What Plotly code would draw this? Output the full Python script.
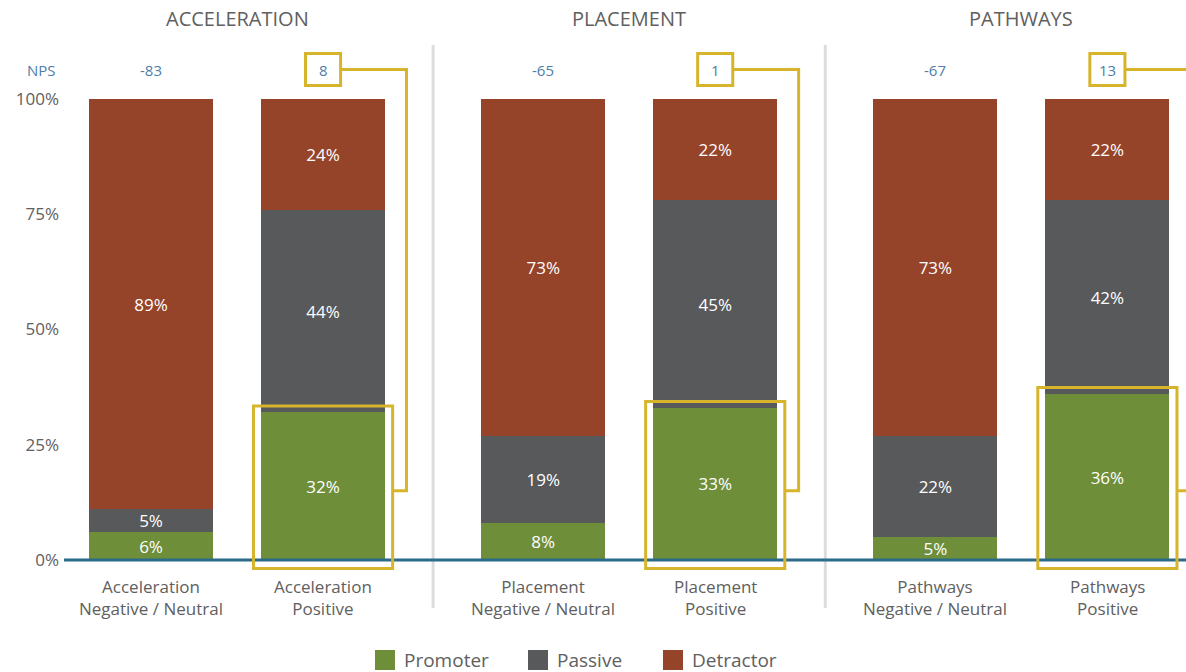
import plotly.graph_objects as go

# ---- data ----
groups = ["ACCELERATION", "PLACEMENT", "PATHWAYS"]
categories = [
    "Acceleration<br>Negative / Neutral", "Acceleration<br>Positive",
    "Placement<br>Negative / Neutral", "Placement<br>Positive",
    "Pathways<br>Negative / Neutral", "Pathways<br>Positive",
]
promoter = [6, 32, 8, 33, 5, 36]
passive = [5, 44, 19, 45, 22, 42]
detractor = [89, 24, 73, 22, 73, 22]
nps = [-83, 8, -65, 1, -67, 13]
highlighted = [False, True, False, True, False, True]
y_ticks = [0, 25, 50, 75, 100]

# ---- style ----
GREEN = "#6f8e3a"
GREY = "#58595b"
BROWN = "#964429"
GOLD = "#d6b52c"
TEAL = "#2a6b8a"
NPS_BLUE = "#4f7ea8"
TEXT = "#606060"
FONT = "Open Sans"

GROUP_STEP = 2.28          # distance between group starts (in bar units)
BAR_W = 0.721
x_pos = [g * GROUP_STEP + i for g in range(len(groups)) for i in (0, 1)]
X_RANGE = [-0.506, 6.017]
Y_RANGE = [-24.295, 121.475]
PX_PER_UNIT = 672 / (Y_RANGE[1] - Y_RANGE[0])


def y_at(px):
    """Data y for a vertical pixel position measured from the top."""
    return (560 - px) / PX_PER_UNIT


fig = go.Figure()
series = [("Promoter", promoter, GREEN), ("Passive", passive, GREY), ("Detractor", detractor, BROWN)]
for name, vals, col in series:
    fig.add_trace(go.Bar(
        x=x_pos, y=vals, name=name, width=BAR_W,
        marker=dict(color=col, line=dict(width=0)),
        text=[f"{v}%" for v in vals], textposition="inside",
        insidetextanchor="middle", textangle=0,
        textfont=dict(color="white", size=17, family=FONT),
        showlegend=False, hoverinfo="skip",
    ))

shapes = []
annotations = []

# baseline
shapes.append(dict(type="line", xref="x", yref="y", x0=X_RANGE[0], x1=X_RANGE[1] + 1,
                   y0=0, y1=0, line=dict(color=TEAL, width=3), layer="above"))

# group separators and titles
for g in range(len(groups)):
    cx = g * GROUP_STEP + 0.5
    annotations.append(dict(x=cx, y=y_at(18), xref="x", yref="y", text=groups[g],
                            showarrow=False, font=dict(size=20, color=TEXT, family=FONT)))
    if g > 0:
        sx = (g * GROUP_STEP + (g - 1) * GROUP_STEP + 1) / 2
        shapes.append(dict(type="line", xref="x", yref="y", x0=sx, x1=sx,
                           y0=y_at(608), y1=y_at(45),
                           line=dict(color="#dcdcdc", width=3), layer="below"))

NPS_Y = y_at(69.5)
# NPS row label
annotations.append(dict(x=(41 - 64) / 1122, y=NPS_Y, xref="paper", yref="y", text="NPS",
                        xanchor="center", yanchor="middle", showarrow=False,
                        font=dict(size=15, color=NPS_BLUE, family=FONT)))

BOX_HW, BOX_HH = 0.102, 3.47
PAD_X = 0.044
LINK_Y = 15
for xp, n, hl, pr, cat in zip(x_pos, nps, highlighted, promoter, categories):
    annotations.append(dict(x=xp, y=NPS_Y, xref="x", yref="y", text=str(n), showarrow=False,
                            font=dict(size=15, color=NPS_BLUE, family=FONT)))
    annotations.append(dict(x=xp, y=y_at(597), xref="x", yref="y", text=cat,
                            showarrow=False, yanchor="middle",
                            font=dict(size=17, color=TEXT, family=FONT)))
    if hl:
        # NPS value box
        shapes.append(dict(type="rect", xref="x", yref="y",
                           x0=xp - BOX_HW, x1=xp + BOX_HW, y0=NPS_Y - BOX_HH, y1=NPS_Y + BOX_HH,
                           line=dict(color=GOLD, width=3), layer="above"))
        # promoter highlight box
        bx1 = xp + BAR_W / 2 + PAD_X
        shapes.append(dict(type="rect", xref="x", yref="y",
                           x0=xp - BAR_W / 2 - PAD_X, x1=bx1, y0=-1.85, y1=pr + 1.4,
                           line=dict(color=GOLD, width=3), layer="above"))
        # connector
        vx = xp + 0.485
        shapes.append(dict(type="path", xref="x", yref="y",
                           path=f"M{xp + BOX_HW},{NPS_Y} L{vx},{NPS_Y} L{vx},{LINK_Y} L{bx1},{LINK_Y}",
                           line=dict(color=GOLD, width=3), layer="above"))

# legend
legend_items = [("Promoter", GREEN, 375), ("Passive", GREY, 528), ("Detractor", BROWN, 663)]
LEG_Y = 660
for name, col, px in legend_items:
    shapes.append(dict(type="rect", xref="paper", yref="paper",
                       x0=(px - 64) / 1122, x1=(px + 20 - 64) / 1122,
                       y0=1 - (LEG_Y + 10) / 672, y1=1 - (LEG_Y - 10) / 672,
                       fillcolor=col, line=dict(width=0)))
    annotations.append(dict(x=(px + 27 - 64) / 1122, y=1 - LEG_Y / 672, xref="paper", yref="paper",
                            xanchor="left", yanchor="middle", text=name, showarrow=False,
                            font=dict(size=19, color=TEXT, family=FONT)))

fig.update_layout(
    barmode="stack",
    width=1186, height=672,
    margin=dict(l=64, r=0, t=0, b=0),
    paper_bgcolor="white", plot_bgcolor="white",
    shapes=shapes, annotations=annotations,
    uniformtext=dict(minsize=17, mode="show"),
    showlegend=False,
    xaxis=dict(range=X_RANGE, showgrid=False, zeroline=False, showticklabels=False,
               showline=False, fixedrange=True),
    yaxis=dict(range=Y_RANGE, showgrid=False, zeroline=False, showline=False,
               tickvals=y_ticks, ticktext=[f"{t}%" for t in y_ticks],
               tickfont=dict(size=17, color=TEXT, family=FONT), ticks="",
               ticklabelstandoff=4, fixedrange=True),
)

fig.write_html("out.html")
